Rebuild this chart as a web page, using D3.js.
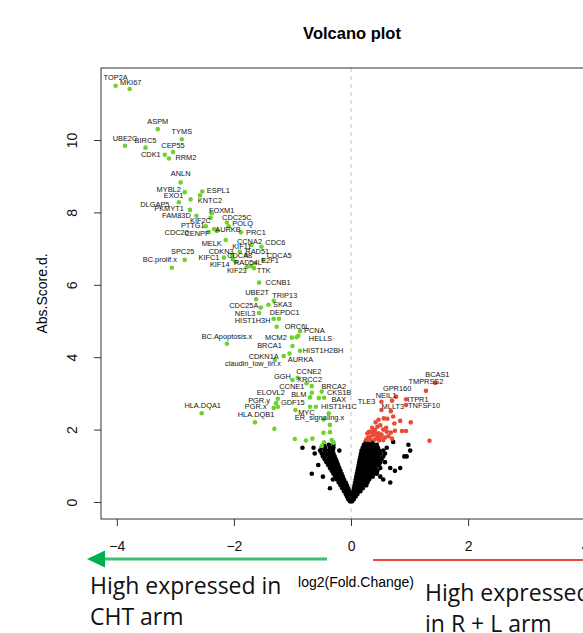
<!DOCTYPE html>
<html>
<head>
<meta charset="utf-8">
<script src="https://cdn.jsdelivr.net/npm/d3@7"></script>
<style>
  body { margin: 0; background: #fff; }
  svg { display: block; font-family: "Liberation Sans", Arial, sans-serif; }
  .tick-label { font-size: 14px; fill: #111; }
  .gene-label { font-size: 7.4px; fill: #111; }
  .note { font-family: "Open Sans", "Noto Sans", sans-serif; font-size: 23px; fill: #111; }
</style>
</head>
<body>
<svg id="chart" width="583" height="633"></svg>
<script>
// Volcano plot: log2 fold change vs |score d|, CHT arm (green) vs R + L arm (red).

const xTicks = [-4, -2, 0, 2, 4];
const yTicks = [0, 2, 4, 6, 8, 10];

// significant, higher in CHT arm: [gene, log2FC, absScore]
const chtGenes = [
  ["TOP2A", -4.02, 11.5], ["MKI67", -3.78, 11.41], ["ASPM", -3.3, 10.3],
  ["TYMS", -2.89, 10.02], ["UBE2C", -3.86, 9.84], ["BIRC5", -3.51, 9.79],
  ["CEP55", -3.04, 9.67], ["CDK1", -3.18, 9.59], ["RRM2", -3.11, 9.49],
  ["ANLN", -2.91, 8.83], ["MYBL2", -2.84, 8.56], ["ESPL1", -2.54, 8.58],
  ["EXO1", -2.74, 8.36], ["KNTC2", -2.58, 8.47], ["DLGAP5", -2.94, 8.28],
  ["PKMYT1", -2.75, 8.07], ["FOXM1", -2.38, 7.98], ["FAM83D", -2.64, 7.91],
  ["KIF2C", -2.4, 7.85], ["CDC25C", -2.12, 7.72], ["POLQ", -2.09, 7.62],
  ["PTTG1", -2.48, 7.62], ["CDC20", -2.43, 7.46], ["CENPF", -2.29, 7.49],
  ["AURKB", -2.34, 7.54], ["PRC1", -1.88, 7.45], ["MELK", -2.14, 7.24],
  ["CCNA2", -1.7, 7.1], ["CDC6", -1.53, 7.05], ["KIF11", -1.9, 6.91],
  ["CDKN3", -2.03, 6.82], ["RAD51", -1.79, 6.82], ["SPC25", -2.84, 6.69],
  ["CDCA8", -1.97, 6.63], ["CDCA5", -1.5, 6.69], ["BC.prolif.x", -3.06, 6.47],
  ["KIFC1", -2.17, 6.75], ["E2F1", -1.64, 6.6], ["RAD54L", -1.71, 6.52],
  ["KIF14", -2.02, 6.7], ["KIF23", -1.78, 6.49], ["TTK", -1.66, 6.46],
  ["CCNB1", -1.57, 6.06], ["UBE2T", -1.62, 5.6], ["TRIP13", -1.32, 5.56],
  ["CDC25A", -1.54, 5.37], ["SKA3", -1.41, 5.45], ["NEIL3", -1.57, 5.22],
  ["DEPDC1", -1.32, 5.06], ["HIST1H3H", -1.27, 4.84], ["ORC6L", -0.87, 4.72],
  ["PCNA", -0.9, 4.59], ["BC.Apoptosis.x", -2.12, 4.37], ["MCM2", -1.01, 4.54],
  ["HELLS", -0.93, 4.55], ["BRCA1", -1.0, 4.31], ["HIST1H2BH", -0.87, 4.18],
  ["CDKN1A", -1.15, 4.03], ["AURKA", -1.05, 4.1], ["claudin_low_lin.x", -1.3, 3.92],
  ["GGH", -1.0, 3.37], ["CCNE2", -0.91, 3.43], ["XRCC2", -0.76, 3.28],
  ["CCNE1", -0.67, 3.2], ["BRCA2", -0.5, 3.05], ["BLM", -0.67, 3.02],
  ["CKS1B", -0.46, 2.88], ["ELOVL2", -1.25, 2.85], ["BAX", -0.55, 2.87],
  ["PGR.y", -1.28, 2.73], ["GDF15", -1.25, 2.63], ["HIST1H1C", -0.6, 2.63],
  ["PGR.x", -1.32, 2.6], ["HLA.DQA1", -2.55, 2.45], ["MYC", -0.95, 2.54],
  ["ER_signaling.x", -0.47, 2.28], ["HLA.DQB1", -1.64, 2.2],
];
const chtOther = [
  [-1.23, 5.06], [-0.7, 2.63], [-0.7, 2.89], [-0.38, 2.45], [-1.31, 2.02],
  [-0.36, 2.13], [-0.47, 1.91], [-0.36, 1.93], [-0.96, 1.74], [-0.77, 1.7],
  [-0.66, 1.75], [-0.46, 1.65], [-0.33, 1.71], [-0.3, 1.64], [-0.5, 1.55],
];

// significant, higher in R + L arm
const rlGenes = [
  ["BCAS1", 1.44, 3.29], ["TMPRSS2", 1.28, 3.07], ["GPR160", 0.77, 2.91],
  ["NEIL1", 0.7, 2.8], ["ITPR1", 0.94, 2.84], ["TLE3", 0.52, 2.77],
  ["MLLT3", 0.68, 2.51], ["TNFSF10", 0.94, 2.68],
];
const rlOther = [
  [0.52, 2.54], [0.56, 2.31], [0.47, 2.27], [0.72, 2.36], [0.84, 2.24],
  [1.02, 2.2], [0.74, 2.17], [0.75, 1.97], [0.87, 1.96], [0.94, 1.96],
  [0.61, 1.94], [0.41, 1.99], [0.31, 1.94], [0.38, 1.85], [0.44, 1.76],
  [0.5, 1.8], [0.55, 1.71], [1.34, 1.69], [0.32, 1.71], [0.28, 1.9],
  [0.35, 1.92], [0.42, 1.88], [0.47, 1.9], [0.33, 1.8], [0.4, 1.72],
  [0.46, 1.82], [0.52, 1.86], [0.58, 1.78], [0.36, 2.05], [0.45, 2.08],
  [0.55, 2.0], [0.64, 1.82], [0.29, 1.78], [0.5, 2.12], [0.6, 2.05],
  [0.68, 1.92], [0.42, 2.2], [0.38, 1.96], [0.26, 1.72], [0.48, 1.7],
  [0.62, 2.3], [0.7, 1.75],
];

// not significant, read row by row (score -> fold changes)
const nsRows = [
  [0.02, [-0.02, 0, 0.02]],
  [0.08, [-0.05, -0.03, 0, 0.03, 0.05]],
  [0.15, [-0.07, -0.04, -0.01, 0.02, 0.05, 0.08]],
  [0.22, [-0.09, -0.06, -0.03, 0.03, 0.06, 0.09, 0.11]],
  [0.3, [-0.12, -0.09, -0.06, -0.03, 0.04, 0.07, 0.1, 0.13, 0.16]],
  [0.38, [-0.36, -0.15, -0.11, -0.08, -0.05, 0.05, 0.08, 0.11, 0.14, 0.17, 0.2]],
  [0.46, [-0.18, -0.14, -0.1, -0.07, 0.06, 0.1, 0.13, 0.16, 0.19, 0.22, 0.26]],
  [0.54, [-0.21, -0.17, -0.13, -0.09, 0.07, 0.11, 0.14, 0.18, 0.21, 0.24, 0.28, 0.67]],
  [0.62, [-0.31, -0.24, -0.2, -0.16, -0.12, 0.08, 0.12, 0.16, 0.2, 0.23, 0.27, 0.31, 0.55]],
  [0.7, [-0.48, -0.27, -0.22, -0.18, -0.14, 0.09, 0.13, 0.17, 0.21, 0.25, 0.29, 0.33, 0.37, 0.5]],
  [0.78, [-0.67, -0.3, -0.25, -0.21, -0.16, 0.1, 0.14, 0.18, 0.22, 0.26, 0.3, 0.34, 0.39, 0.44]],
  [0.86, [-0.33, -0.28, -0.23, -0.18, 0.11, 0.15, 0.19, 0.23, 0.27, 0.31, 0.35, 0.4, 0.45, 0.75]],
  [0.94, [-0.36, -0.3, -0.25, -0.2, 0.12, 0.16, 0.2, 0.24, 0.28, 0.32, 0.37, 0.42, 0.5, 0.67, 0.84]],
  [1.02, [-0.56, -0.39, -0.33, -0.27, -0.22, 0.13, 0.17, 0.21, 0.25, 0.29, 0.33, 0.38, 0.43, 0.48]],
  [1.1, [-0.42, -0.36, -0.3, -0.24, 0.14, 0.18, 0.22, 0.26, 0.3, 0.34, 0.39, 0.44, 0.5, 0.58]],
  [1.18, [-0.45, -0.38, -0.32, -0.26, 0.15, 0.19, 0.23, 0.27, 0.31, 0.35, 0.4, 0.45, 0.52]],
  [1.26, [-0.48, -0.41, -0.34, -0.28, 0.16, 0.2, 0.24, 0.28, 0.32, 0.37, 0.42, 0.47, 0.55, 0.91, 0.95]],
  [1.34, [-0.62, -0.5, -0.43, -0.36, -0.3, 0.17, 0.21, 0.25, 0.29, 0.34, 0.39, 0.44, 0.5, 0.58]],
  [1.42, [-0.53, -0.45, -0.38, -0.31, -0.2, 0.18, 0.22, 0.27, 0.32, 0.37, 0.42, 0.48, 0.55, 1.01]],
  [1.5, [-0.83, -0.64, -0.5, -0.44, -0.36, -0.3, 0.2, 0.24, 0.29, 0.34, 0.4, 0.46, 0.61]],
  [1.58, [-0.46, -0.38, -0.3, 0.22, 0.27, 0.32, 0.38, 0.44, 0.98]],
  [1.66, [0.25, 0.31, 0.37, 0.72]],
];

// label nudges in px (label centre relative to its point), like textxy pos
const labelNudge = {
  TOP2A: [0, -8], MKI67: [1, -7], ASPM: [0, -8], TYMS: [0, -8], UBE2C: [0, -7],
  BIRC5: [0, -7], CEP55: [0, -7], CDK1: [-14, 0], RRM2: [17, -1], ANLN: [0, -9],
  MYBL2: [-16, -3], ESPL1: [16, -1], EXO1: [-17, -4], KNTC2: [10, 5],
  DLGAP5: [-24, 2], PKMYT1: [-21, -1], FOXM1: [10, -3], FAM83D: [-20, 0],
  KIF2C: [-10, 3], CDC25C: [10, -5], POLQ: [14, -3], PTTG1: [-13, -1],
  CDC20: [-32, 0], CENPF: [-20, 3], AURKB: [14, 0], PRC1: [15, 0],
  MELK: [-14, 3], CCNA2: [-2, -4], CDC6: [14, -4], KIF11: [2, -5],
  CDKN3: [-11, -4], RAD51: [11, -4], SPC25: [-2, -8], CDCA8: [4, -7],
  CDCA5: [16, -4], "BC.prolif.x": [-12, -8], KIFC1: [-15, 0], E2F1: [15, -3],
  RAD54L: [-3, -4], KIF14: [-13, 5], KIF23: [-10, 3], TTK: [10, 2],
  CCNB1: [19, 0], UBE2T: [1, -7], TRIP13: [11, -5], CDC25A: [-17, -2],
  SKA3: [14, 0], NEIL3: [-14, 0], DEPDC1: [11, -6], HIST1H3H: [-24, -6],
  ORC6L: [-3, -5], PCNA: [16, -5], "BC.Apoptosis.x": [0, -7], MCM2: [-16, 0],
  HELLS: [24, 1], BRCA1: [-23, -1], HIST1H2BH: [23, 0], CDKN1A: [-20, 0],
  AURKA: [11, 6], "claudin_low_lin.x": [-22, 3], GGH: [-10, -4], CCNE2: [11, -6],
  XRCC2: [3, -4], CCNE1: [-20, 0], BRCA2: [12, -5], BLM: [-13, 2],
  CKS1B: [15, -5], ELOVL2: [-7, -6], BAX: [20, 1], "PGR.y": [-17, -3],
  GDF15: [15, -4], HIST1H1C: [23, 0], "PGR.x": [-18, -1], "HLA.DQA1": [1, -8],
  MYC: [11, 2], "ER_signaling.x": [-4, -2], "HLA.DQB1": [1, -8],
  BCAS1: [2, -8], TMPRSS2: [0, -9], GPR160: [1, -8], NEIL1: [-6, -5],
  ITPR1: [12, 0], TLE3: [-15, 0], MLLT3: [2, -5], TNFSF10: [18, 0],
};

const COLORS = { cht: "#6fd22c", rl: "#e94b35", ns: "#000" };
const plot = { left: 101, right: 611, top: 68, bottom: 519 };

const svg = d3.select("#chart");

const x = d3.scaleLinear().domain([-4.27, 4.44]).range([plot.left, plot.right]);
const y = d3.scaleLinear().domain([-0.47, 11.99]).range([plot.bottom, plot.top]);

// zero line
svg.append("line")
  .attr("x1", x(0)).attr("x2", x(0))
  .attr("y1", plot.top).attr("y2", plot.bottom)
  .attr("stroke", "#c8c8c8")
  .attr("stroke-dasharray", "4,4");

// points
const nsPoints = nsRows.flatMap(([score, fcs]) => fcs.map((fc) => [fc, score]));
const pointGroups = [
  { pts: nsPoints, color: COLORS.ns },
  { pts: rlOther.concat(rlGenes.map((g) => [g[1], g[2]])), color: COLORS.rl },
  { pts: chtOther.concat(chtGenes.map((g) => [g[1], g[2]])), color: COLORS.cht },
];
pointGroups.forEach((group) => {
  svg.append("g")
    .attr("fill", group.color)
    .selectAll("circle")
    .data(group.pts)
    .join("circle")
    .attr("cx", (d) => x(d[0]))
    .attr("cy", (d) => y(d[1]))
    .attr("r", 2.3);
});

// gene labels
svg.append("g")
  .selectAll("text")
  .data(chtGenes.concat(rlGenes))
  .join("text")
  .attr("class", "gene-label")
  .attr("x", (d) => x(d[1]) + (labelNudge[d[0]] || [0, -8])[0])
  .attr("y", (d) => y(d[2]) + (labelNudge[d[0]] || [0, -8])[1])
  .attr("dy", "0.35em")
  .attr("text-anchor", "middle")
  .text((d) => d[0]);

// frame
svg.append("rect")
  .attr("x", plot.left).attr("y", plot.top)
  .attr("width", plot.right - plot.left)
  .attr("height", plot.bottom - plot.top)
  .attr("fill", "none")
  .attr("stroke", "#333");

// axes (R style)
const xAxis = svg.append("g")
  .attr("transform", `translate(0,${plot.bottom})`)
  .call(d3.axisBottom(x).tickValues(xTicks).tickSize(7).tickPadding(15)
    .tickFormat((d) => String(d).replace("-", "\u2212")));
const yAxis = svg.append("g")
  .attr("transform", `translate(${plot.left},0)`)
  .call(d3.axisLeft(y).tickValues(yTicks).tickSize(7));
[xAxis, yAxis].forEach((axis) => {
  axis.select(".domain").remove();
  axis.selectAll(".tick line").attr("stroke", "#333");
  axis.selectAll(".tick text")
    .attr("class", "tick-label")
    .attr("font-family", null)
    .attr("font-size", null);
});
yAxis.selectAll(".tick text")
  .attr("x", null).attr("dy", null)
  .attr("text-anchor", "middle")
  .attr("transform", "translate(-24,0) rotate(-90)")
  .attr("y", 0);

// titles
svg.append("text")
  .attr("x", 352).attr("y", 39)
  .attr("text-anchor", "middle")
  .attr("font-weight", "bold")
  .attr("font-size", 16.5)
  .text("Volcano plot");
svg.append("text")
  .attr("transform", `translate(47,${(plot.top + plot.bottom) / 2}) rotate(-90)`)
  .attr("text-anchor", "middle")
  .attr("font-size", 14)
  .text("Abs.Score.d.");
svg.append("text")
  .attr("x", 356).attr("y", 587)
  .attr("text-anchor", "middle")
  .attr("font-size", 14)
  .text("log2(Fold.Change)");

// direction arrows and notes
svg.append("line")
  .attr("x1", 100).attr("x2", 327).attr("y1", 559).attr("y2", 559)
  .attr("stroke", "#3cbf6e").attr("stroke-width", 3);
svg.append("path")
  .attr("d", "M87,559 L105,550.5 L105,567.5 Z")
  .attr("fill", "#00b050");
svg.append("line")
  .attr("x1", 373).attr("x2", 600).attr("y1", 560).attr("y2", 560)
  .attr("stroke", "#ee4444").attr("stroke-width", 2);

const notes = [
  { x: 90, y: 594, lines: ["High expressed in", "CHT arm"] },
  { x: 425, y: 601, lines: ["High expressed", "in R + L arm"] },
];
notes.forEach((note) => {
  const t = svg.append("text").attr("class", "note").attr("x", note.x).attr("y", note.y);
  note.lines.forEach((line, i) => {
    t.append("tspan").attr("x", note.x).attr("dy", i === 0 ? 0 : 31).text(line);
  });
});
</script>
</body>
</html>
